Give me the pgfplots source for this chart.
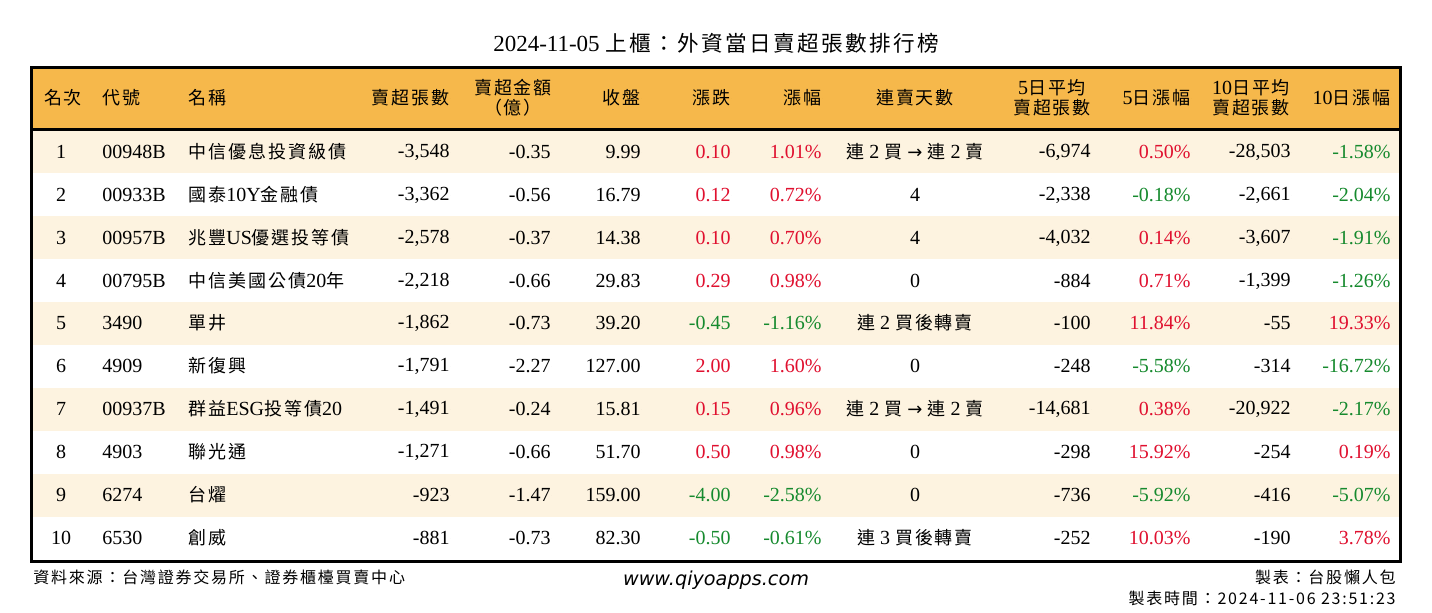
\documentclass[border=0pt]{standalone}
\usepackage{pgfplots}
\pgfplotsset{compat=1.18}
\usepackage{pgfplotstable}
\usepackage{fontspec}
\setmainfont{Liberation Serif}
\newfontfamily\cjk[LetterSpace=11,Scale=0.9]{Noto Sans CJK TC}
\newfontfamily\web{DejaVu Sans}

\definecolor{headBg}{HTML}{F6B84B}
\definecolor{rowBg}{HTML}{FDF3E0}
\definecolor{upR}{HTML}{E0102F}
\definecolor{dnG}{HTML}{168A2E}
\protected\def\up#1{{\color{upR}#1}}
\protected\def\dn#1{{\color{dnG}#1}}
\protected\def\arr{{\web\fontsize{9}{10}\selectfont →}}

% body rows, y = row centre in px of a 1432x612 canvas
\pgfplotstableread[col sep=semicolon]{
y;rank;code;name;sell;amt;close;chg;pct;days;avg5;pct5;avg10;pct10
152;1;00948B;{\cjk 中信優息投資級債};-3,548;-0.35;9.99;\up{0.10};\up{1.01\%};{{\cjk 連} 2 {\cjk 買} \arr{} {\cjk 連} 2 {\cjk 賣}};-6,974;\up{0.50\%};-28,503;\dn{-1.58\%}
195;2;00933B;{{\cjk 國泰}10Y{\cjk 金融債}};-3,362;-0.56;16.79;\up{0.12};\up{0.72\%};4;-2,338;\dn{-0.18\%};-2,661;\dn{-2.04\%}
238;3;00957B;{{\cjk 兆豐}US{\cjk 優選投等債}};-2,578;-0.37;14.38;\up{0.10};\up{0.70\%};4;-4,032;\up{0.14\%};-3,607;\dn{-1.91\%}
281;4;00795B;{{\cjk 中信美國公債}20{\cjk 年}};-2,218;-0.66;29.83;\up{0.29};\up{0.98\%};0;-884;\up{0.71\%};-1,399;\dn{-1.26\%}
323;5;3490;{\cjk 單井};-1,862;-0.73;39.20;\dn{-0.45};\dn{-1.16\%};{{\cjk 連} 2 {\cjk 買後轉賣}};-100;\up{11.84\%};-55;\up{19.33\%}
366;6;4909;{\cjk 新復興};-1,791;-2.27;127.00;\up{2.00};\up{1.60\%};0;-248;\dn{-5.58\%};-314;\dn{-16.72\%}
409;7;00937B;{{\cjk 群益}ESG{\cjk 投等債}20};-1,491;-0.24;15.81;\up{0.15};\up{0.96\%};{{\cjk 連} 2 {\cjk 買} \arr{} {\cjk 連} 2 {\cjk 賣}};-14,681;\up{0.38\%};-20,922;\dn{-2.17\%}
452;8;4903;{\cjk 聯光通};-1,271;-0.66;51.70;\up{0.50};\up{0.98\%};0;-298;\up{15.92\%};-254;\up{0.19\%}
495;9;6274;{\cjk 台燿};-923;-1.47;159.00;\dn{-4.00};\dn{-2.58\%};0;-736;\dn{-5.92\%};-416;\dn{-5.07\%}
538;10;6530;{\cjk 創威};-881;-0.73;82.30;\dn{-0.50};\dn{-0.61\%};{{\cjk 連} 3 {\cjk 買後轉賣}};-252;\up{10.03\%};-190;\up{3.78\%}
}\sells

% header labels, grouped by alignment
\pgfplotstableread[col sep=semicolon]{
x;y;lab
63;98;{\cjk 名次}
513;88;{\cjk 賣超金額}
513;108;{\cjk （億）}
915;98;{\cjk 連賣天數}
1052;88;{5{\cjk 日平均}}
1052;108;{\cjk 賣超張數}
1251;88;{10{\cjk 日平均}}
1251;108;{\cjk 賣超張數}
}\headC
\pgfplotstableread[col sep=semicolon]{
x;y;lab
102;98;{\cjk 代號}
188;98;{\cjk 名稱}
}\headW
\pgfplotstableread[col sep=semicolon]{
x;y;lab
450;98;{\cjk 賣超張數}
641;98;{\cjk 收盤}
731;98;{\cjk 漲跌}
822;98;{\cjk 漲幅}
1191;98;{5{\cjk 日漲幅}}
1391;98;{10{\cjk 日漲幅}}
}\headE

\pgfplotsset{
  cell/.style={only marks, mark=*, mark size=0pt, mark options={draw=none, fill=none},
    nodes near coords, point meta=explicit symbolic,
    every node near coord/.style={anchor=#1, inner sep=0pt,
      font=\fontsize{10}{12}\selectfont, text=black}},
}

\begin{document}
\begin{tikzpicture}
\begin{axis}[width=716pt, height=306pt, scale only axis,
  xmin=0, xmax=1432, ymin=0, ymax=612, y dir=reverse,
  hide axis, clip=false]
\fill[white] (axis cs:0,0) rectangle (axis cs:1432,612);
% header band and striped rows
\fill[headBg] (axis cs:31,67) rectangle (axis cs:1400,129);
\fill[rowBg] (axis cs:31,130) rectangle (axis cs:1400,173);
\fill[rowBg] (axis cs:31,216) rectangle (axis cs:1400,259);
\fill[rowBg] (axis cs:31,302) rectangle (axis cs:1400,345);
\fill[rowBg] (axis cs:31,388) rectangle (axis cs:1400,431);
\fill[rowBg] (axis cs:31,474) rectangle (axis cs:1400,517);
\draw[line width=1.5pt] (axis cs:31,129) -- (axis cs:1400,129);
\draw[line width=1.5pt] (axis cs:31,67) rectangle (axis cs:1400,561);

\addplot[cell=center] table[x=x, y=y, meta=lab] {\headC};
\addplot[cell=west] table[x=x, y=y, meta=lab] {\headW};
\addplot[cell=east] table[x=x, y=y, meta=lab] {\headE};

\addplot[cell=center] table[x expr=61, y=y, meta=rank] {\sells};
\addplot[cell=west] table[x expr=102, y=y, meta=code] {\sells};
\addplot[cell=west] table[x expr=188, y=y, meta=name] {\sells};
\addplot[cell=east] table[x expr=450, y=y, meta=sell] {\sells};
\addplot[cell=east] table[x expr=551, y=y, meta=amt] {\sells};
\addplot[cell=east] table[x expr=641, y=y, meta=close] {\sells};
\addplot[cell=east] table[x expr=731, y=y, meta=chg] {\sells};
\addplot[cell=east] table[x expr=822, y=y, meta=pct] {\sells};
\addplot[cell=center] table[x expr=915, y=y, meta=days] {\sells};
\addplot[cell=east] table[x expr=1091, y=y, meta=avg5] {\sells};
\addplot[cell=east] table[x expr=1191, y=y, meta=pct5] {\sells};
\addplot[cell=east] table[x expr=1291, y=y, meta=avg10] {\sells};
\addplot[cell=east] table[x expr=1391, y=y, meta=pct10] {\sells};

% title and footer
\node[inner sep=0pt] at (axis cs:716,43)
  {\fontsize{11.5}{14}\selectfont 2024-11-05 {\fontsize{12}{14}\selectfont\cjk 上櫃：外資當日賣超張數排行榜}};
\node[anchor=west, inner sep=0pt] at (axis cs:33,577)
  {\fontsize{8.9}{11}\selectfont\cjk 資料來源：台灣證券交易所、證券櫃檯買賣中心};
\node[inner sep=0pt] at (axis cs:716,580)
  {\fontsize{9.6}{11}\selectfont\web\itshape www.qiyoapps.com};
\node[anchor=east, inner sep=0pt] at (axis cs:1396,577)
  {\fontsize{8.9}{11}\selectfont\cjk 製表：台股懶人包};
\node[anchor=east, inner sep=0pt] at (axis cs:1396,598)
  {\fontsize{8.9}{11}\selectfont\cjk 製表時間：2024-11-06 23:51:23};
\end{axis}
\end{tikzpicture}
\end{document}
